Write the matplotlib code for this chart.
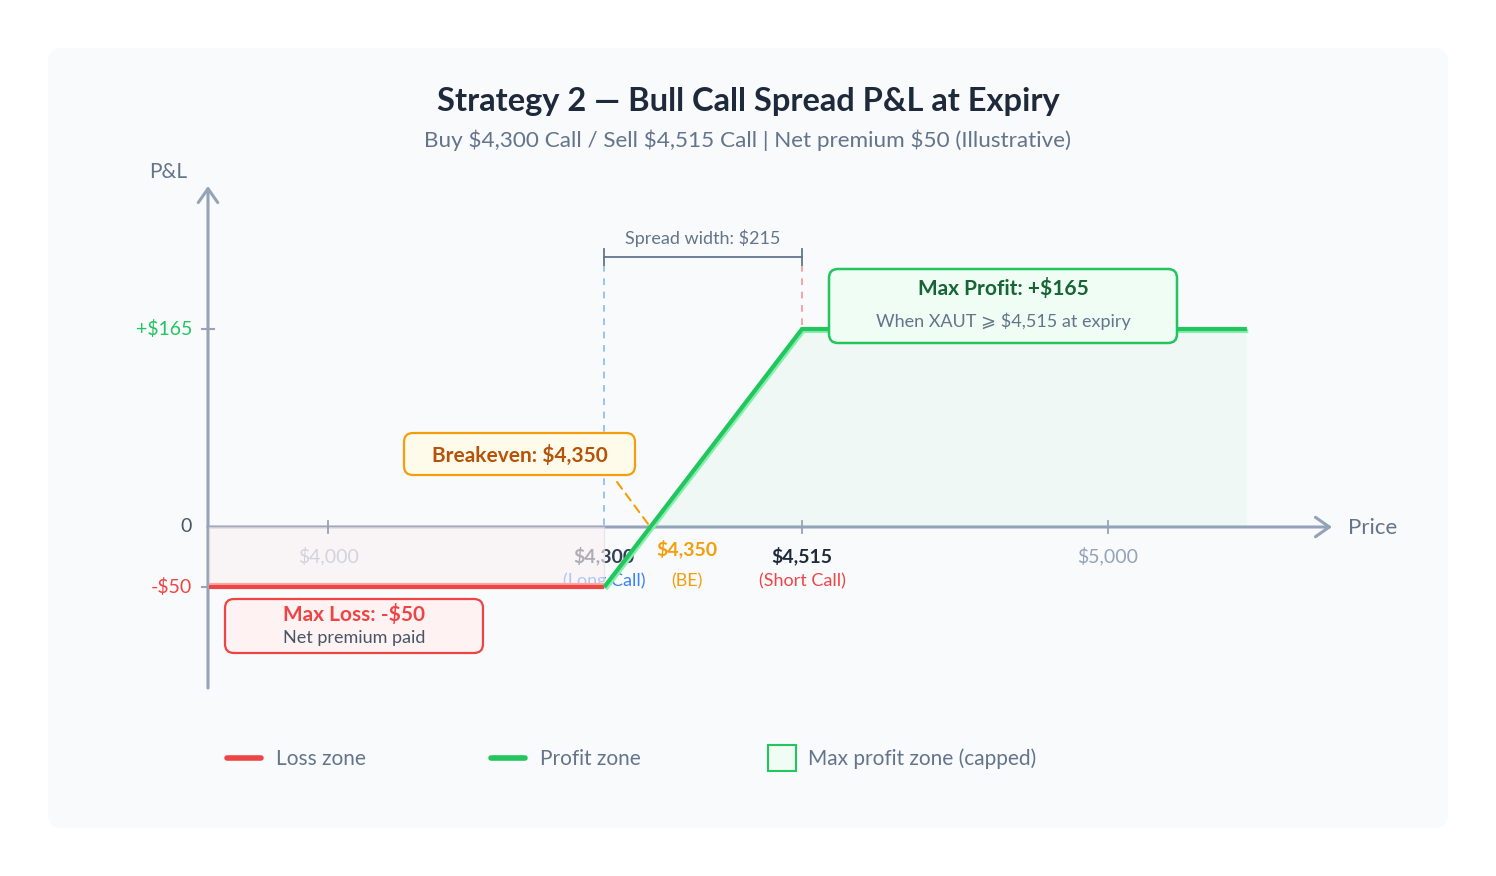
import numpy as np
import matplotlib
matplotlib.use("Agg")
import matplotlib.pyplot as plt
import matplotlib.patheffects as pe
from matplotlib.patches import FancyBboxPatch, Rectangle
from matplotlib.transforms import blended_transform_factory

plt.rcParams['font.family'] = ['Lato', 'DejaVu Sans']

# --- data ---
prices = [3870, 4300, 4515, 5220]
pnl = [-50, -50, 165, 165]
long_strike = 4300
short_strike = 4515
breakeven = 4350
max_profit = 165
max_loss = -50
net_premium = 50
spread_width = 215
grey_ticks = [4000, 5000]
y_ticks = [165, 0, -50]
y_tick_labels = ['+$165', '0', '-$50']

W, H = 1496, 876
axis_c = '#94a3b8'
red = '#ef4444'
green = '#22c55e'
orange = '#f59e0b'
slate = '#64748b'
dark = '#1e293b'

fig = plt.figure(figsize=(W / 100, H / 100), dpi=100)
fig.patch.set_facecolor('white')

# background / decoration axes in pixel units
bg = fig.add_axes([0, 0, 1, 1])
bg.set_xlim(0, W)
bg.set_ylim(H, 0)
bg.axis('off')
bg.add_patch(FancyBboxPatch((48, 48), 1400, 780, boxstyle='round,pad=0,rounding_size=14',
                            facecolor='#f8fafc', edgecolor='none', zorder=0))

# main axes: price scale is compressed above the short strike (illustrative)
ax = fig.add_axes([0, 0, 1, 1])
ax.patch.set_alpha(0)
ax.axis('off')
k_lo, k_hi = 0.9195, 0.631


def fwd(p):
    p = np.asarray(p, float)
    return np.where(p <= short_strike, (p - short_strike) * k_lo, (p - short_strike) * k_hi)


def inv(u):
    u = np.asarray(u, float)
    return np.where(u <= 0, u / k_lo + short_strike, u / k_hi + short_strike)


ax.set_xscale('function', functions=(fwd, inv))
ax.set_xlim(float(inv(-802)), float(inv(W - 802)))
ax.set_ylim(-(H - 527) / 1.2, 527 / 1.2)

px = bg.transData                                               # pixel coords
xpix = blended_transform_factory(ax.transData, bg.transData)   # x price, y pixels
ypix = blended_transform_factory(bg.transData, ax.transData)   # x pixels, y P&L

# title
bg.text(W / 2, 101, 'Strategy 2 — Bull Call Spread P&L at Expiry', ha='center', va='center',
        fontsize=23.5, fontweight='bold', color=dark)
bg.text(W / 2, 140, f'Buy ${long_strike:,} Call / Sell ${short_strike:,} Call | Net premium ${net_premium} (Illustrative)',
        ha='center', va='center', fontsize=16.2, color=slate)

# axes arrows
bg.annotate('', xy=(208, 186), xytext=(208, 688),
            arrowprops=dict(arrowstyle='->,head_length=1.0,head_width=0.7', color=axis_c, lw=2.2,
                            shrinkA=0, shrinkB=0), zorder=5)
bg.annotate('', xy=(1332, 527), xytext=(208, 527),
            arrowprops=dict(arrowstyle='->,head_length=1.0,head_width=0.7', color=axis_c, lw=2.2,
                            shrinkA=0, shrinkB=0), zorder=5)
bg.text(168, 172, 'P&L', ha='center', va='center', fontsize=15, color=slate)
bg.text(1348, 528, 'Price', ha='left', va='center', fontsize=16, color=slate)

# y ticks
y_cols = [green, '#475569', red]
for v, lab, c in zip(y_ticks, y_tick_labels, y_cols):
    ax.text(192, v, lab, transform=ypix, ha='right', va='center', fontsize=14, color=c, zorder=3)
    if v != 0:
        ax.plot([202, 214], [v, v], transform=ypix, color=axis_c, lw=1.5, zorder=5)

# x ticks and labels
for p in grey_ticks + [short_strike]:
    ax.plot([p, p], [521, 533], transform=xpix, color=axis_c, lw=1.3, zorder=5)
for p in grey_ticks:
    ax.text(p, 556, f'${p:,}', transform=xpix, ha='center', va='center', fontsize=14, color=axis_c, zorder=3)
ax.text(long_strike, 556, f'${long_strike:,}', transform=xpix, ha='center', va='center',
        fontsize=14, fontweight='bold', color='#334155', zorder=3)
ax.text(long_strike, 581, '(Long Call)', transform=xpix, ha='center', va='center',
        fontsize=13, color='#3b82f6', zorder=3)
ax.text(short_strike, 556, f'${short_strike:,}', transform=xpix, ha='center', va='center',
        fontsize=14, fontweight='bold', color=dark, zorder=3)
ax.text(short_strike, 581, '(Short Call)', transform=xpix, ha='center', va='center',
        fontsize=13, color=red, zorder=3)
ax.annotate(f'${breakeven:,}', xy=(breakeven, 0), xytext=(26.5, -16), textcoords='offset points',
            ha='center', va='center', fontsize=14, fontweight='bold', color=orange, zorder=3)
ax.annotate('(BE)', xy=(breakeven, 0), xytext=(26.5, -39), textcoords='offset points',
            ha='center', va='center', fontsize=13, color=orange, zorder=3)

# zones
ax.fill_between([prices[0], long_strike], max_loss, 0, facecolor='#faf1f3', alpha=0.62,
                edgecolor='#e8d8dd', lw=1, zorder=4)
pr = np.array(prices, float)
pv = np.array(pnl, float)
ax.fill_between(pr, pv, 0, where=pv >= 0, interpolate=True, facecolor=green, alpha=0.035,
                edgecolor='none', zorder=2)

# strike guides
ax.plot([long_strike, long_strike], [265, 527], transform=xpix, color='#60a5fa', alpha=0.75,
        lw=1.2, ls=(0, (4, 4)), zorder=2)
ax.plot([short_strike, short_strike], [265, 329], transform=xpix, color='#f87171', alpha=0.75,
        lw=1.2, ls=(0, (4, 4)), zorder=2)

# spread width bracket
ax.plot([long_strike, short_strike], [257, 257], transform=xpix, color=slate, lw=1.3, zorder=5)
for p in [long_strike, short_strike]:
    ax.plot([p, p], [249, 265], transform=xpix, color=slate, lw=1.3, zorder=5)
bg.text((fwd(long_strike) + fwd(short_strike)) / 2 + 802, 238, f'Spread width: ${spread_width}',
        ha='center', va='center', fontsize=13, color=slate)

# P&L line
ax.plot(pr[:2], pv[:2], color=red, lw=3, solid_capstyle='butt', zorder=6,
        path_effects=[pe.SimpleLineShadow(offset=(0, 1.6), shadow_color='#fca5a5', alpha=1, rho=1),
                      pe.Normal()])
ax.plot(pr[1:], pv[1:], color=green, lw=3, solid_capstyle='butt', solid_joinstyle='miter', zorder=6,
        path_effects=[pe.SimpleLineShadow(offset=(1.0, -1.4), shadow_color='#86efac', alpha=1, rho=1),
                      pe.Normal()])

# breakeven connector
ax.annotate('', xy=(breakeven, 0), xytext=(617, 482), textcoords=px,
            arrowprops=dict(arrowstyle='-', color=orange, lw=1.5, ls=(0, (4, 3)), shrinkA=0, shrinkB=0),
            zorder=5)


def label_box(x0, y0, x1, y1, face, edge, lw):
    ax.add_patch(FancyBboxPatch((x0, y0), x1 - x0, y1 - y0, boxstyle='round,pad=0,rounding_size=9',
                                facecolor=face, edgecolor=edge, lw=lw, zorder=7, transform=px))


label_box(404, 433, 635, 475, '#fffbeb', orange, 1.6)
ax.text(519.5, 455, f'Breakeven: ${breakeven:,}', transform=px, ha='center', va='center', fontsize=15,
        fontweight='bold', color='#b45309', zorder=8)

label_box(829, 269, 1177, 343, '#f0fdf4', green, 1.8)
ax.text(1003, 289, f'Max Profit: +${max_profit}', transform=px, ha='center', va='center', fontsize=15,
        fontweight='bold', color='#166534', zorder=8)
ax.text(1003, 321, f'When XAUT \u2A7E ${short_strike:,} at expiry', transform=px, ha='center',
        va='center', fontsize=13, color=slate, zorder=8)

label_box(225, 599, 483, 653, '#fef2f2', red, 1.6)
ax.text(354, 615, f'Max Loss: -${abs(max_loss)}', transform=px, ha='center', va='center', fontsize=15,
        fontweight='bold', color=red, zorder=8)
ax.text(354, 638, 'Net premium paid', transform=px, ha='center', va='center', fontsize=13,
        color='#475569', zorder=8)

# legend
bg.plot([227, 261], [758, 758], color=red, lw=4, solid_capstyle='round')
bg.text(276, 759, 'Loss zone', ha='left', va='center', fontsize=15, color=slate)
bg.plot([491, 525], [758, 758], color=green, lw=4, solid_capstyle='round')
bg.text(540, 759, 'Profit zone', ha='left', va='center', fontsize=15, color=slate)
bg.add_patch(Rectangle((768, 745), 28, 26, facecolor='#f0fdf4', edgecolor=green, lw=1.5))
bg.text(808, 759, 'Max profit zone (capped)', ha='left', va='center', fontsize=15, color=slate)

fig.savefig('out.png', dpi=100, facecolor='white')
